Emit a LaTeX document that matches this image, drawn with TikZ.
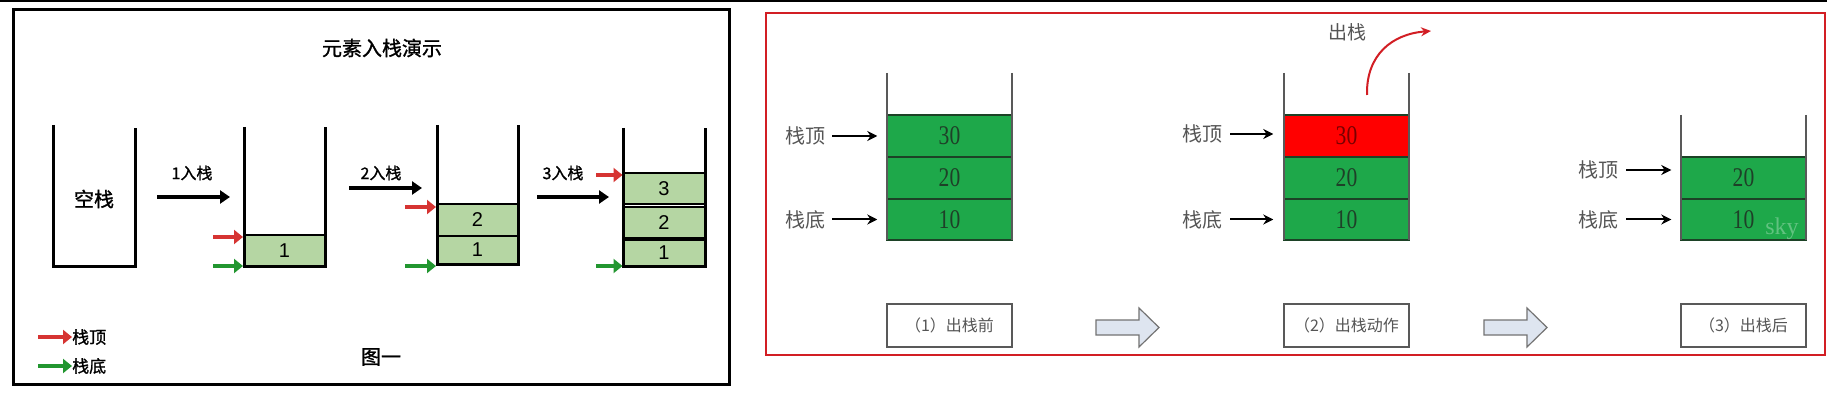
\documentclass[tikz,border=0pt]{standalone}
\usepackage{fontspec}
\setmainfont{Liberation Serif}
\setsansfont{Liberation Sans}
\newfontfamily\cjk{Noto Sans CJK SC}
\newfontfamily\cjkb[FakeBold=1.2]{Noto Sans CJK SC}
\newfontfamily\numfont[FakeStretch=0.8]{Liberation Serif}
\usetikzlibrary{arrows.meta}
\definecolor{lgreen}{RGB}{181,214,163}
\definecolor{lred}{RGB}{214,52,50}
\definecolor{lgrn}{RGB}{34,150,48}
\definecolor{dgreen}{RGB}{30,168,74}
\definecolor{dline}{RGB}{28,66,38}
\definecolor{numcol}{RGB}{30,64,40}
\definecolor{rednum}{RGB}{120,0,0}
\definecolor{frred}{RGB}{210,30,36}
\definecolor{rtext}{RGB}{85,85,85}
\definecolor{barrow}{RGB}{222,229,240}
\tikzset{
  lwall/.style={line width=3pt, black},
  lbox/.style={draw=black, line width=2pt, fill=lgreen, inner sep=0pt, minimum width=81pt,
    font=\sffamily\fontsize{20}{24}\selectfont},
  ltext/.style={inner sep=0pt, font=\cjkb\fontsize{20}{24}\selectfont},
  lstep/.style={inner sep=0pt, font=\cjkb\fontsize{16}{19}\selectfont},
  blkarr/.style={line width=3.5pt, -{Triangle[length=10pt,width=13pt]}},
  redarr/.style={lred, line width=4.5pt, -{Triangle[length=9pt,width=14pt]}},
  grnarr/.style={lgrn, line width=4.5pt, -{Triangle[length=9pt,width=14pt]}},
  rwall/.style={line width=1.3pt, black!65},
  rbox/.style={draw=dline, line width=1.5pt, fill=dgreen, inner sep=0pt, minimum width=125pt,
    text=numcol, font=\numfont\fontsize{27}{30}\selectfont},
  rlab/.style={inner sep=0pt, text=rtext, font=\cjk\fontsize{20}{24}\selectfont},
  rarr/.style={line width=2pt, -{Stealth[length=10pt,width=10pt]}},
  capbox/.style={draw=black!65, line width=1.5pt, fill=white, inner sep=0pt, minimum width=125pt,
    minimum height=43pt, text=rtext, font=\cjk\fontsize{16}{19}\selectfont},
  barr/.style={draw=black!55, fill=barrow, line width=1.2pt, line join=miter},
}
\begin{document}
\begin{tikzpicture}[x=1pt,y=-1pt]
\useasboundingbox (0,0) rectangle (1839,406);
\fill[white] (0,0) rectangle (1839,406);
\draw[line width=2pt] (0,1) -- (1827,1);

% ---------------- left panel ----------------
\node[draw, line width=3pt, minimum width=716pt, minimum height=374pt, inner sep=0pt] (lframe) at (371,197) {};
\node[inner sep=0pt, font=\cjkb\fontsize{20}{24}\selectfont] (title) at (382,48) {元素入栈演示};

% empty stack
\draw[lwall] (53,125) -- (53,266) -- (135,266) -- (135,128);
\node[ltext] (empty) at (94,199) {空栈};

% step 1
\node[lstep] (st1) at (192,173) {1入栈};
\coordinate (a1s) at (157,197); \coordinate (a1e) at (230,197);
\draw[blkarr] (a1s) -- (a1e);
\node[lbox, minimum height=31pt] (s2b1) at (284.5,250.5) {1};
\draw[lwall] (244,127) -- (244,266) -- (325,266) -- (325,127);
\coordinate (r2) at (213,237); \coordinate (g2) at (213,266);
\draw[redarr] (r2) -- (r2 -| s2b1.west);
\draw[grnarr] (g2) -- (g2 -| s2b1.west);

% step 2
\node[lstep] (st2) at (381,173) {2入栈};
\coordinate (a2s) at (349,188); \coordinate (a2e) at (422,188);
\draw[blkarr] (a2s) -- (a2e);
\node[lbox, minimum height=28pt] (s3b1) at (477.5,250) {1};
\node[lbox, minimum height=32pt] (s3b2) at (477.5,220) {2};
\draw[lwall] (437,125) -- (437,264) -- (518,264) -- (518,125);
\coordinate (r3) at (405,207); \coordinate (g3) at (405,266);
\draw[redarr] (r3) -- (r3 -| s3b2.west);
\draw[grnarr] (g3) -- (g3 -| s3b1.west);

% step 3
\node[lstep] (st3) at (563,173) {3入栈};
\coordinate (a3s) at (537,197); \coordinate (a3e) at (609,197);
\draw[blkarr] (a3s) -- (a3e);
\node[lbox, minimum height=26pt] (s4b1) at (664,253) {1};
\node[lbox, minimum height=31pt] (s4b2) at (664,222.5) {2};
\node[lbox, minimum height=31pt] (s4b3) at (664,188.5) {3};
\draw[lwall] (623,128) -- (623,266) -- (705,266) -- (705,128);
\coordinate (r4) at (596,175); \coordinate (g4) at (596,266);
\draw[redarr] (r4) -- (r4 -| s4b3.west);
\draw[grnarr] (g4) -- (g4 -| s4b1.west);

% legend
\node[inner sep=0pt, anchor=west, font=\cjkb\fontsize{17}{20}\selectfont] (legtop) at (72,337) {栈顶};
\node[inner sep=0pt, anchor=west, font=\cjkb\fontsize{17}{20}\selectfont] (legbot) at (72,366) {栈底};
\coordinate (lr) at (38,337); \coordinate (lg) at (38,366);
\draw[redarr] (lr) -- (legtop.west);
\draw[grnarr] (lg) -- (legbot.west);
\node[inner sep=0pt, font=\cjkb\fontsize{20}{24}\selectfont] (fig1) at (381,357) {图一};

% ---------------- right panel ----------------
\node[draw=frred, line width=2.5pt, minimum width=1059pt, minimum height=342pt, inner sep=0pt] (rframe) at (1295.5,184) {};

% stack A
\node[rbox, minimum height=42pt] (a30) at (949.5,136) {30};
\node[rbox, minimum height=42pt] (a20) at (949.5,178) {20};
\node[rbox, minimum height=41pt] (a10) at (949.5,219.5) {10};
\draw[rwall] (887,73) -- (887,240);
\draw[rwall] (1012,73) -- (1012,240);
\node[rlab] (atop) at (805,136) {栈顶};
\node[rlab] (abot) at (805,220) {栈底};
\draw[rarr] ([xshift=7pt]atop.east) -- ([xshift=-9pt]a30.west);
\draw[rarr] ([xshift=7pt]abot.east |- a10.west) -- ([xshift=-9pt]a10.west);

% stack B
\node[rbox, fill=red, text=rednum, minimum height=42pt] (b30) at (1346.5,136) {30};
\node[rbox, minimum height=42pt] (b20) at (1346.5,178) {20};
\node[rbox, minimum height=41pt] (b10) at (1346.5,219.5) {10};
\draw[rwall] (1284,73) -- (1284,240);
\draw[rwall] (1409,73) -- (1409,240);
\node[rlab] (btop) at (1202,134) {栈顶};
\node[rlab] (bbot) at (1202,220) {栈底};
\draw[rarr] ([xshift=8pt]btop.east) -- ([xshift=-10pt]b30.west |- btop.east);
\draw[rarr] ([xshift=8pt]bbot.east |- b10.west) -- ([xshift=-10pt]b10.west);
\node[inner sep=0pt, text=rtext, font=\cjk\fontsize{19}{22}\selectfont] (out) at (1347,32) {出栈};
\coordinate (outs) at (1367,95); \coordinate (oute) at (1431,31);
\draw[frred, line width=2pt, -{Stealth[length=10pt,width=9pt]}] (outs) .. controls (1366,55) and (1392,34) .. (oute);

% stack C
\node[rbox, minimum height=42pt] (c20) at (1743.5,178) {20};
\node[rbox, minimum height=41pt] (c10) at (1743.5,219.5) {10};
\draw[rwall] (1681,115) -- (1681,240);
\draw[rwall] (1806,115) -- (1806,240);
\node[rlab] (ctop) at (1598,170) {栈顶};
\node[rlab] (cbot) at (1598,220) {栈底};
\draw[rarr] ([xshift=8pt]ctop.east) -- ([xshift=-9pt]c20.west |- ctop.east);
\draw[rarr] ([xshift=8pt]cbot.east |- c10.west) -- ([xshift=-9pt]c10.west);
\node[inner sep=0pt, text=white, text opacity=0.3, font=\rmfamily\fontsize{24}{28}\selectfont] (wm) at (1782,229) {sky};

% captions
\node[capbox] (cap1) at (949.5,325.5) {（1）出栈前};
\node[capbox] (cap2) at (1346.5,325.5) {（2）出栈动作};
\node[capbox] (cap3) at (1743.5,325.5) {（3）出栈后};
\draw[barr] (1096,320) -- (1139,320) -- (1139,308) -- (1159,327.5) -- (1139,347) -- (1139,335) -- (1096,335) -- cycle;
\draw[barr] (1484,320) -- (1527,320) -- (1527,308) -- (1547,327.5) -- (1527,347) -- (1527,335) -- (1484,335) -- cycle;
\end{tikzpicture}
\end{document}
